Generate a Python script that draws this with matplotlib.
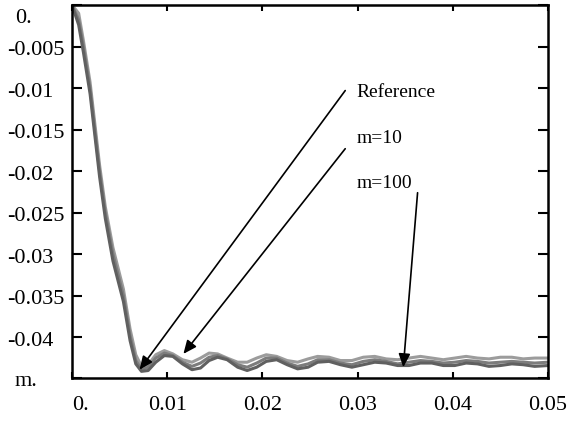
import matplotlib
matplotlib.use("Agg")
import matplotlib.pyplot as plt
from matplotlib.transforms import ScaledTranslation

x = [0, 0.0007, 0.0012, 0.0019, 0.0024, 0.0029, 0.0035, 0.0043, 0.0054, 0.0061,
     0.0067, 0.0073, 0.0080, 0.0088, 0.0097, 0.0106, 0.0116, 0.0126, 0.0135, 0.0144,
     0.0153, 0.0163, 0.0174, 0.0184, 0.0194, 0.0204, 0.0215, 0.0226, 0.0237, 0.0248,
     0.0258, 0.0270, 0.0282, 0.0294, 0.0306, 0.0318, 0.0330, 0.0342, 0.0354, 0.0366,
     0.0378, 0.0390, 0.0402, 0.0414, 0.0426, 0.0438, 0.0450, 0.0462, 0.0474, 0.0486,
     0.0500]

y_reference = [0, -0.0018, -0.0050, -0.0100, -0.0150, -0.0200, -0.0250, -0.0300, -0.0350, -0.0398,
               -0.0428, -0.0439, -0.0436, -0.0425, -0.0419, -0.0422, -0.0430, -0.0435, -0.0431, -0.0424,
               -0.0422, -0.0426, -0.0433, -0.0436, -0.0431, -0.0425, -0.0425, -0.0431, -0.0435, -0.0432,
               -0.0427, -0.0427, -0.0431, -0.0433, -0.0429, -0.0427, -0.0429, -0.0432, -0.0430, -0.0428,
               -0.0429, -0.0431, -0.0430, -0.0428, -0.0429, -0.0431, -0.0430, -0.0429, -0.0430, -0.0431,
               -0.0430]

y_m10 = [0, -0.0010, -0.0043, -0.0093, -0.0143, -0.0193, -0.0243, -0.0292, -0.0342, -0.0390,
         -0.0421, -0.0435, -0.0433, -0.0421, -0.0416, -0.0420, -0.0427, -0.0430, -0.0425, -0.0419,
         -0.0420, -0.0425, -0.0430, -0.0430, -0.0425, -0.0421, -0.0423, -0.0428, -0.0430, -0.0426,
         -0.0423, -0.0424, -0.0428, -0.0428, -0.0424, -0.0423, -0.0426, -0.0427, -0.0425, -0.0423,
         -0.0425, -0.0427, -0.0425, -0.0423, -0.0425, -0.0426, -0.0424, -0.0424, -0.0426, -0.0425,
         -0.0425]

y_m100 = [0, -0.0024, -0.0057, -0.0107, -0.0157, -0.0207, -0.0257, -0.0308, -0.0357, -0.0404,
          -0.0432, -0.0441, -0.0440, -0.0430, -0.0422, -0.0423, -0.0432, -0.0439, -0.0437, -0.0428,
          -0.0424, -0.0427, -0.0436, -0.0440, -0.0436, -0.0429, -0.0427, -0.0433, -0.0438, -0.0436,
          -0.0430, -0.0429, -0.0433, -0.0436, -0.0433, -0.0430, -0.0431, -0.0434, -0.0434, -0.0431,
          -0.0431, -0.0434, -0.0434, -0.0431, -0.0432, -0.0435, -0.0434, -0.0432, -0.0433, -0.0435,
          -0.0434]

xticks = [0, 0.01, 0.02, 0.03, 0.04, 0.05]
xticklabels = ["0.", "0.01", "0.02", "0.03", "0.04", "0.05"]
yticks = [0, -0.005, -0.01, -0.015, -0.02, -0.025, -0.03, -0.035, -0.04, -0.0449]
yticklabels = ["0.", "-0.005", "-0.01", "-0.015", "-0.02", "-0.025", "-0.03", "-0.035", "-0.04", "m."]

annotations = ["Reference", "m=10", "m=100"]
label_pos = [(0.0299, -0.0105), (0.0299, -0.0161), (0.0299, -0.0215)]
arrow_start = [(0.0287, -0.0103), (0.0287, -0.0173), (0.0363, -0.0226)]
arrow_tip = [(0.0071, -0.0439), (0.0117, -0.0420), (0.0348, -0.0436)]

plt.rcParams["font.family"] = ["Liberation Serif", "DejaVu Serif"]

fig = plt.figure(figsize=(5.68, 4.22), dpi=100)
ax = fig.add_axes([72/568, 44/422, 476/568, 373/422])

ax.plot(x, y_m10, color="#9c9c9c", lw=2.2, solid_joinstyle="round")
ax.plot(x, y_reference, color="#7c7c7c", lw=2.2, solid_joinstyle="round")
ax.plot(x, y_m100, color="#606060", lw=2.2, solid_joinstyle="round")

ax.set_xlim(0, 0.05)
ax.set_ylim(-0.0449, 0)
ax.set_xticks(xticks)
ax.set_xticklabels(xticklabels, fontsize=16)
ax.get_xticklabels()[0].set_ha("left")
ax.set_yticks(yticks)
ax.set_yticklabels([])
ax.tick_params(axis="y", direction="in", length=7, width=1.5, left=True, right=True)
ax.tick_params(axis="x", direction="in", length=4, width=1.5, top=True, bottom=True, pad=13)
for s in ax.spines.values():
    s.set_linewidth(1.8)

# y labels aligned on the decimal point (as in the reference)
ytrans = ax.get_yaxis_transform() + ScaledTranslation(0, -4/100, fig.dpi_scale_trans)
for i, (yv, lab) in enumerate(zip(yticks, yticklabels)):
    has_minus = lab.startswith("-")
    xpos = (7 - 72) / 476 if has_minus else (15 - 72) / 476
    va = "center"
    yy = yv
    if i == 0:
        va = "top"
    ax.text(xpos, yy, lab, transform=ytrans, ha="left", va=va, fontsize=16, clip_on=False)

for txt, lp, st, tp in zip(annotations, label_pos, arrow_start, arrow_tip):
    ax.text(lp[0], lp[1], txt, fontsize=14, va="center", ha="left")
    ax.annotate("", xy=tp, xytext=st,
                arrowprops=dict(arrowstyle="-|>,head_length=0.8,head_width=0.35",
                                color="black", lw=1.2, shrinkA=0, shrinkB=0))

fig.savefig("out.png", dpi=100)
